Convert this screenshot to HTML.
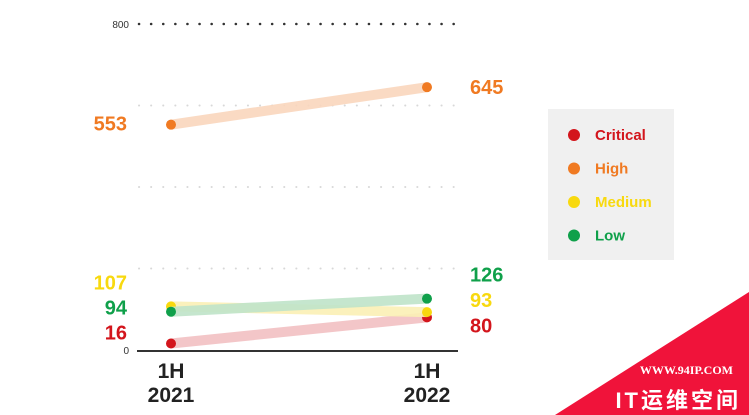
<!DOCTYPE html>
<html><head><meta charset="utf-8"><style>
body{margin:0;background:#fff;}
svg{display:block;font-family:"Liberation Sans","Noto Sans CJK SC",sans-serif;}
</style></head><body>
<svg id="chart" width="749" height="415" viewBox="0 0 749 415" xmlns="http://www.w3.org/2000/svg">
<g id="grid"></g>
<g id="series"></g>
<line x1="137" y1="351" x2="458" y2="351" stroke="#333" stroke-width="2"/>
<g id="xlabels"></g>
<g>
<rect x="548" y="109" width="126" height="151" fill="#f0f0f0"/>
<g id="legend-items"></g>
</g>
<g>
<polygon points="555,415 749,292 749,415" fill="#f0133a"/>
<text x="733" y="374" text-anchor="end" font-family="Liberation Serif,serif" font-weight="bold" font-size="12" fill="#fff">WWW.94IP.COM</text>
<text x="741" y="408" text-anchor="end" font-weight="bold" font-size="22" fill="#fff" letter-spacing="3">IT运维空间</text>
</g>
</svg>
<script>
const years=["1H\n2021","1H\n2022"];
const seriesNames=["Critical","High","Medium","Low"];
const colors=["#d3151c","#f07a22","#f8d90f","#0fa04a"];
const lightColors=["#f2c0c2","#f9d6bd","#fbf0b5","#bfe3c9"];
const v2021=[16,553,107,94];
const v2022=[80,645,93,126];
const yTicks=[0,200,400,600,800];
const NS="http://www.w3.org/2000/svg";
const y0=350,yTop=24,yMax=800;
const y=v=>y0-(v/yMax)*(y0-yTop);
const xs=[171,427];
const x=i=>xs[i];
function mk(t,a,p){const e=document.createElementNS(NS,t);for(const k in a)e.setAttribute(k,a[k]);p.appendChild(e);return e;}
const grid=document.getElementById('grid');
yTicks.forEach((t,i)=>{
  if(t===0||t===800){const tx=mk('text',{x:129,y:y(t)+4,'text-anchor':'end','font-size':10,fill:'#333'},grid);tx.textContent=t;
    
    }
  if(t>0){const l=mk('line',{x1:139,x2:462,y1:y(t),y2:y(t),stroke:t===800?'#333':'#d8d8d8','stroke-width':t===800?2.5:2,'stroke-dasharray':'0.1 12','stroke-linecap':'round'},grid);
    
    }
});
const s=document.getElementById('series');
seriesNames.forEach((n,i)=>{
  const g=mk('g',{},s);
  
  
  mk('line',{x1:x(0),y1:y(v2021[i]),x2:x(1),y2:y(v2022[i]),stroke:lightColors[i],'stroke-width':10,'stroke-opacity':0.9},g);
  [v2021[i],v2022[i]].forEach((v,j)=>{
    const c=mk('circle',{cx:x(j),cy:y(v),r:5,fill:colors[i]},g);
    
    
  });
});
const off2021=[-11,-1,-24,-4];
const off2022=[8,0,-12,-24];
seriesNames.forEach((n,i)=>{
  const a=mk('text',{x:127,y:y(v2021[i])+off2021[i]+7,'text-anchor':'end','font-size':20,'font-weight':600,fill:colors[i]},s);
  a.textContent=v2021[i];
  
  
  const b=mk('text',{x:470,y:y(v2022[i])+off2022[i]+7,'font-size':20,'font-weight':600,fill:colors[i]},s);
  b.textContent=v2022[i];
  
  
});
const xl=document.getElementById('xlabels');
years.forEach((t,i)=>{
  t.split("\n").forEach((ln,k)=>{
    const e=mk('text',{x:x(i),y:378+k*24,'text-anchor':'middle','font-size':21,'font-weight':600,fill:'#222'},xl);
    e.textContent=ln;
    
    
  });
});
const li=document.getElementById('legend-items');
seriesNames.forEach((n,i)=>{
  const cy=135+i*33.5;
  const c=mk('circle',{cx:574,cy:cy,r:6,fill:colors[i]},li);
  
  
  const t=mk('text',{x:595,y:cy+5,'font-size':15,'font-weight':'bold',fill:colors[i]},li);
  t.textContent=n;
  
  
});
</script>
</body></html>
